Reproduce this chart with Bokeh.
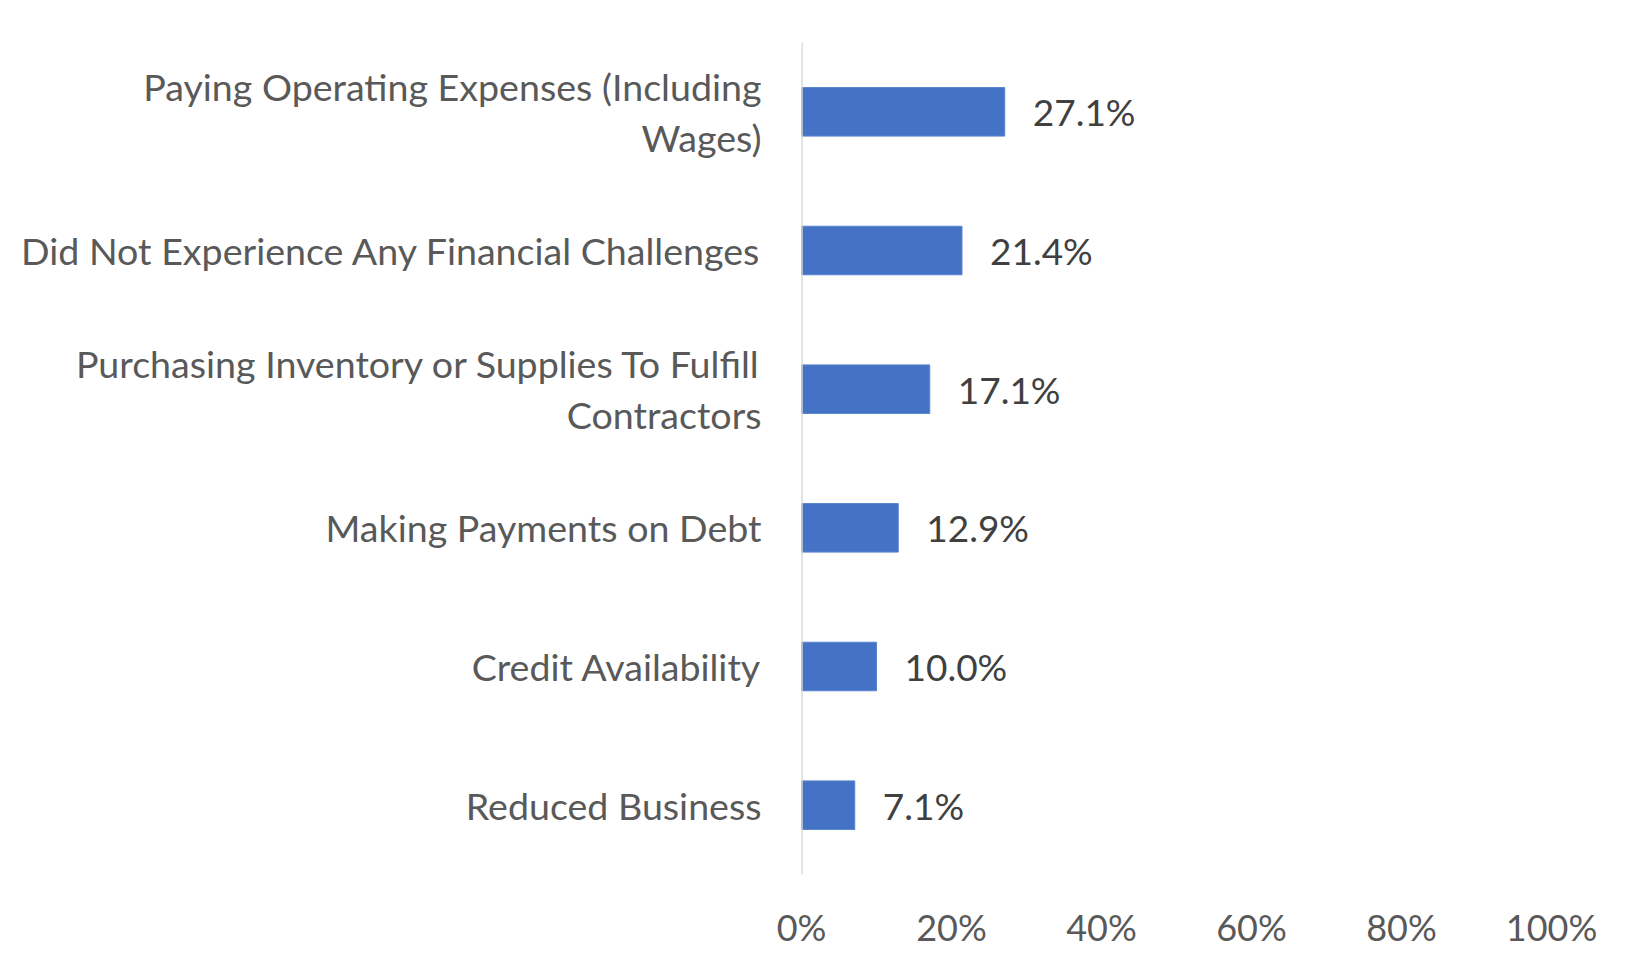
from bokeh.plotting import figure
from bokeh.models import Range1d, FactorRange, Span, ColumnDataSource, FixedTicker, NumeralTickFormatter
from bokeh.core.properties import value
from bokeh.embed import file_html
from bokeh.resources import INLINE

categories = [
    "Paying Operating Expenses (Including\nWages)",
    "Did Not Experience Any Financial Challenges",
    "Purchasing Inventory or Supplies To Fulfill\nContractors",
    "Making Payments on Debt",
    "Credit Availability",
    "Reduced Business",
]
values = [0.271, 0.214, 0.171, 0.129, 0.100, 0.071]
value_labels = ["27.1%", "21.4%", "17.1%", "12.9%", "10.0%", "7.1%"]
x_ticks = [0, 0.2, 0.4, 0.6, 0.8, 1.0]

FONT = "Lato"

src = ColumnDataSource(dict(cat=categories, val=values, lab=value_labels))

p = figure(
    width=1642, height=972,
    y_range=FactorRange(factors=list(reversed(categories))),
    x_range=Range1d(0, 1.0),
    output_backend="svg", toolbar_location=None,
    min_border_left=801, min_border_right=91, min_border_top=42, min_border_bottom=98,
)
p.outline_line_color = None
p.xgrid.visible = False
p.ygrid.visible = False

p.hbar(y="cat", right="val", left=0, height=0.35, source=src,
       fill_color="#4472C4", line_color="#5a84cf", line_width=1)

p.add_layout(Span(location=0, dimension="height", line_color="#D4D4D4", line_width=2.5))

p.text(x="val", y="cat", text="lab", source=src, x_offset=28,
       text_align="left", text_baseline="middle", text_font=value(FONT),
       text_font_size="37px", text_color="#404040")

ya = p.yaxis[0]
ya.axis_line_color = None
ya.major_tick_line_color = None
ya.minor_tick_line_color = None
ya.major_tick_out = 0
ya.major_label_standoff = 40
ya.major_label_text_font = FONT
ya.major_label_text_font_size = "37.6px"
ya.major_label_text_color = "#595959"
ya.major_label_text_line_height = 1.12

ax = p.xaxis[0]
ax.ticker = FixedTicker(ticks=x_ticks)
ax.formatter = NumeralTickFormatter(format="0%")
ax.axis_line_color = None
ax.major_tick_line_color = None
ax.minor_tick_line_color = None
ax.major_tick_out = 0
ax.major_label_standoff = 30
ax.major_label_text_font = FONT
ax.major_label_text_font_size = "36px"
ax.major_label_text_color = "#595959"

open("out.html", "w").write(file_html(p, INLINE))
